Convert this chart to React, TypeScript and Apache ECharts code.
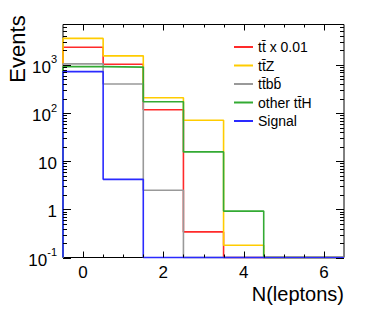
import React, { useEffect, useRef } from "react";
import * as echarts from "echarts";

// ---- data ----
const BIN_CENTERS = [0, 1, 2, 3, 4, 5, 6];
const SERIES_NAMES = ["tt\u0304 x 0.01", "tt\u0304Z", "tt\u0304bb\u0304", "other tt\u0304H", "Signal"];
const SERIES_COLORS = ["#ff2a2a", "#ffcc00", "#999999", "#33aa33", "#2a2aff"];
const TTBAR_VALUES = [2330, 1030, 117, 0.34, 0, 0, 0];
const TTZ_VALUES = [3550, 1540, 208, 71, 0.18, 0, 0];
const TTBB_VALUES = [1050, 400, 2.5, 0, 0, 0, 0];
const OTHER_TTH_VALUES = [920, 900, 172, 15.6, 0.92, 0, 0];
const SIGNAL_VALUES = [725, 4.2, 0, 0, 0, 0, 0];
const X_TICK_LABELS = [0, 2, 4, 6];
const Y_TICK_LABELS = [0.1, 1, 10, 100, 1000];

const X_MIN = -0.5;
const X_MAX = 6.5;
const Y_MIN = 0.1;
const Y_MAX = 6900;
const FONT = "Liberation Sans, Arial, Helvetica, sans-serif";

function stepPoints(values: number[]) {
  const pts: number[][] = [[BIN_CENTERS[0] - 0.5, Y_MIN]];
  values.forEach((v, i) => {
    const y = v > Y_MIN ? v : Y_MIN;
    pts.push([BIN_CENTERS[i] - 0.5, y]);
    pts.push([BIN_CENTERS[i] + 0.5, y]);
  });
  pts.push([BIN_CENTERS[BIN_CENTERS.length - 1] + 0.5, Y_MIN]);
  return pts;
}

export default function App() {
  const ref = useRef<HTMLDivElement>(null);
  useEffect(() => {
    if (!ref.current) return;
    const chart = echarts.init(ref.current, undefined, { renderer: "svg" });
    const allValues = [TTBAR_VALUES, TTZ_VALUES, TTBB_VALUES, OTHER_TTH_VALUES, SIGNAL_VALUES];

    const yMajor = Y_TICK_LABELS;
    const yMinor: number[] = [];
    yMajor.forEach((d) => {
      for (let k = 2; k <= 9; k++) {
        const v = d * k;
        if (v < Y_MAX) yMinor.push(v);
      }
    });
    const xMajor = X_TICK_LABELS;
    const xMinor: number[] = [];
    for (let v = X_MIN + 0.5; v < X_MAX; v += 0.5) {
      if (xMajor.indexOf(v) < 0) xMinor.push(v);
    }

    const lineSeries = SERIES_NAMES.map((name, i) => ({
      name,
      type: "line",
      data: stepPoints(allValues[i]),
      showSymbol: false,
      symbol: "none",
      clip: false,
      lineStyle: { color: SERIES_COLORS[i], width: 1.6 },
      itemStyle: { color: SERIES_COLORS[i] },
      z: 2 + i * 0.01,
    }));

    const tickSeries = {
      type: "custom",
      silent: true,
      z: 5,
      data: [[0, 1]],
      renderItem: (params: any, api: any) => {
        const cs = params.coordSys;
        const left = cs.x, right = cs.x + cs.width, top = cs.y, bottom = cs.y + cs.height;
        const children: any[] = [];
        const st = { stroke: "#000", lineWidth: 1 };
        const hy = (v: number, len: number) => {
          const py = Math.round(api.coord([X_MIN, v])[1]) + 0.5;
          children.push({ type: "line", shape: { x1: left, y1: py, x2: left + len, y2: py }, style: st });
          children.push({ type: "line", shape: { x1: right - len, y1: py, x2: right, y2: py }, style: st });
        };
        const vx = (v: number, len: number) => {
          const px = Math.round(api.coord([v, Y_MIN])[0]) + 0.5;
          children.push({ type: "line", shape: { x1: px, y1: bottom, x2: px, y2: bottom - len }, style: st });
          children.push({ type: "line", shape: { x1: px, y1: top, x2: px, y2: top + len }, style: st });
        };
        yMajor.forEach((v) => hy(v, 8));
        yMinor.forEach((v) => hy(v, 4));
        xMajor.forEach((v) => vx(v, 6));
        xMinor.forEach((v) => vx(v, 3));
        return { type: "group", children };
      },
    };

    chart.setOption({
      animation: false,
      textStyle: { fontFamily: FONT },
      grid: {
        left: 63,
        right: 30,
        top: 24.5,
        bottom: 58.5,
        show: true,
        borderColor: "#000",
        borderWidth: 1,
        backgroundColor: "transparent",
      },
      xAxis: {
        type: "value",
        min: X_MIN,
        max: X_MAX,
        axisLine: { show: false },
        axisTick: { show: false },
        splitLine: { show: false },
        axisLabel: {
          customValues: X_TICK_LABELS,
          color: "#000",
          fontSize: 17,
          fontFamily: FONT,
          margin: 6,
          lineHeight: 17,
        },
      },
      yAxis: {
        type: "log",
        logBase: 10,
        min: Y_MIN,
        max: Y_MAX,
        axisLine: { show: false },
        axisTick: { show: false },
        splitLine: { show: false },
        minorTick: { show: false },
        axisLabel: {
          customValues: Y_TICK_LABELS,
          color: "#000",
          fontSize: 17,
          fontFamily: FONT,
          margin: 6,
          formatter: (v: number) => {
            const e = Math.round(Math.log10(v));
            if (e === 0) return "{b|1}";
            if (e === 1) return "{b|10}";
            return "{b|10}{s|" + e + "}";
          },
          rich: {
            b: { fontSize: 17, fontFamily: FONT, color: "#000", lineHeight: 22, verticalAlign: "bottom" },
            s: { fontSize: 11, fontFamily: FONT, color: "#000", lineHeight: 22, verticalAlign: "top", padding: [0, 0, 0, 0] },
          },
        },
      },
      legend: {
        orient: "vertical",
        left: 229,
        top: 34,
        itemWidth: 19,
        itemHeight: 2,
        itemGap: 2.5,
        icon: "rect",
        selectedMode: false,
        data: SERIES_NAMES,
        textStyle: { color: "#000", fontSize: 14, fontFamily: FONT, lineHeight: 16 },
      },
      graphic: [
        {
          type: "text",
          x: 17,
          y: 49,
          rotation: Math.PI / 2,
          style: { text: "Events", font: "22px " + FONT, fill: "#000", align: "center", verticalAlign: "middle" },
        },
        {
          type: "text",
          x: 344,
          y: 294,
          style: { text: "N(leptons)", font: "20px " + FONT, fill: "#000", align: "right", verticalAlign: "middle" },
        },
      ],
      series: [...lineSeries, tickSeries],
    });
    return () => chart.dispose();
  }, []);
  return <div ref={ref} style={{ width: 374, height: 316, margin: -8 }} />;
}
